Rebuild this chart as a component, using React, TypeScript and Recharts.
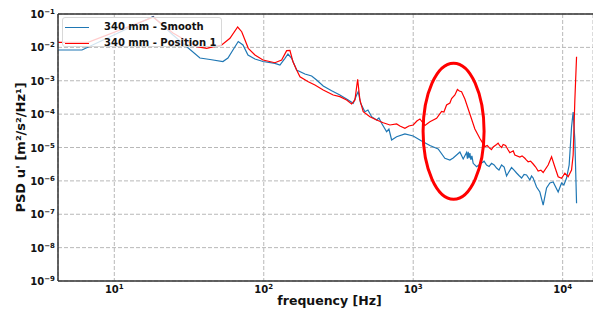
import React from "react";
import {
  LineChart,
  Line,
  XAxis,
  YAxis,
  CartesianGrid,
  ReferenceLine,
  ReferenceDot,
  Legend,
} from "recharts";

const smoothName = "340 mm - Smooth";
const positionName = "340 mm - Position 1";

// frequency [Hz] / PSD values
const smoothFreq = [
  4.2, 6.08, 18.2, 24.7, 37.4, 43.7, 53.3, 57.6, 62.2, 67.5, 72.6, 78.4, 87.3,
  98.8, 118.8, 128.3, 138.6, 145.2, 153.7, 166, 188.6, 209.2, 225.8, 250,
  284.6, 323.3, 367.4, 396.9, 418.2, 428.7, 444.8, 475.2, 497.7, 526.8, 569,
  589.6, 614.6, 664, 687.9, 717, 774.5, 879.9, 1000, 1138, 1293, 1469, 1629,
  1760, 1851, 1951, 2053, 2160, 2276, 2305, 2333, 2364, 2395, 2430, 2470, 2519,
  2655, 2867, 2980, 3097, 3220, 3345, 3480, 3613, 3750, 3902, 4060, 4214, 4380,
  4551, 4730, 4916, 5100, 5311, 5520, 5734, 6034, 6190, 6349, 6510, 6689, 7039,
  7406, 7803, 8211, 8640, 9331, 9831, 10186, 10619, 11053, 11468, 11755, 12067,
  12388,
];
const smoothPsd = [
  0.00834, 0.00834, 0.0842, 0.0235, 0.0048, 0.00433, 0.00377, 0.0048, 0.00834,
  0.015, 0.0118, 0.00591, 0.00448, 0.00377, 0.00333, 0.00296, 0.00471, 0.00633,
  0.00471, 0.0021, 0.00159, 0.00139, 0.00105, 0.000696, 0.000503, 0.000374,
  0.000265, 0.000211, 0.000374, 0.00047, 0.000211, 0.000118, 0.000133, 8.37e-5,
  6.67e-5, 7.65e-5, 5.31e-5, 2.97e-5, 3.58e-5, 1.68e-5, 2.11e-5, 2.54e-5,
  2.21e-5, 1.57e-5, 1.15e-5, 9.02e-6, 4.75e-6, 4.22e-6, 4.85e-6, 5.96e-6,
  7.33e-6, 4.52e-6, 7.08e-6, 4.6e-6, 7.4e-6, 4.8e-6, 6.84e-6, 4.3e-6, 5.6e-6,
  3.36e-6, 2.66e-6, 3.43e-6, 3.9e-6, 2.99e-6, 2.7e-6, 3.36e-6, 3.0e-6, 2.43e-6,
  2.1e-6, 2.99e-6, 2.6e-6, 1.4e-6, 1.9e-6, 2.52e-6, 2.1e-6, 1.72e-6, 1.45e-6,
  1.22e-6, 1.55e-6, 1.5e-6, 1.06e-6, 1.4e-6, 1.22e-6, 9e-7, 6.55e-7, 4.64e-7,
  1.89e-7, 6.12e-7, 8.64e-7, 9.25e-7, 4.64e-7, 8.64e-7, 7.52e-7, 1.22e-6,
  2.99e-6, 4.11e-5, 1.16e-4, 1.68e-5, 2.13e-7,
];

const positionFreq = [
  4.2, 6.67, 18.2, 24.7, 35.6, 41.5, 45.7, 52.3, 59.4, 66.9, 71.2, 78.8, 87.3,
  98.8, 118.8, 131.7, 142.3, 149.7, 156.8, 166, 174.7, 198.5, 220, 250, 291.6,
  323.3, 358.5, 387.3, 407.4, 424.8, 440, 463, 513.3, 569, 630, 698.5, 774.5,
  814.7, 879.9, 936, 1000, 1058, 1109, 1198, 1293, 1434, 1549, 1605, 1672, 1760,
  1807, 1901, 1976, 2037, 2107, 2217, 2395, 2586, 2795, 3017, 3130, 3258, 3340,
  3428, 3613, 3700, 3802, 3900, 3999, 4150, 4320, 4430, 4551, 4670, 4789, 5172,
  5350, 5587, 5730, 5877, 6100, 6349, 6600, 6857, 7150, 7406, 7998, 8430, 8868,
  9331, 9831, 10344, 10884, 11468, 11755, 12067, 12388,
];
const positionPsd = [
  0.0142, 0.0142, 0.0796, 0.027, 0.0105, 0.00938, 0.0103, 0.0118, 0.0187,
  0.0408, 0.0295, 0.00938, 0.00591, 0.00418, 0.00347, 0.00418, 0.00795, 0.00806,
  0.00372, 0.0021, 0.00132, 0.000936, 0.000746, 0.000528, 0.000374, 0.000333,
  0.000265, 0.000201, 0.000265, 0.0011, 0.000265, 0.000118, 8.37e-5, 6.67e-5,
  5.53e-5, 4.72e-5, 5.06e-5, 4.41e-5, 3.76e-5, 4.41e-5, 4.72e-5, 6.22e-5,
  7.14e-5, 4.56e-5, 5.93e-5, 7.5e-5, 1.2e-4, 1.16e-4, 1.88e-4, 2.15e-4, 2.94e-4,
  3.74e-4, 5.47e-4, 4.93e-4, 4.7e-4, 2.84e-4, 1.01e-4, 3.58e-5, 1.86e-5,
  1.06e-5, 1.15e-5, 9.46e-6, 8.6e-6, 1.04e-5, 1.23e-5, 1.35e-5, 1.11e-5, 1.0e-5,
  1.23e-5, 1.15e-5, 8.41e-6, 7.0e-6, 7.48e-6, 7.9e-6, 5.96e-6, 5.19e-6, 5.6e-6,
  4.75e-6, 4.2e-6, 3.75e-6, 3.9e-6, 3.2e-6, 2.6e-6, 1.98e-6, 2.1e-6, 1.78e-6,
  2.99e-6, 5.3e-6, 2.6e-6, 1.33e-6, 1.19e-6, 1.69e-6, 1.33e-6, 2.12e-6, 5.96e-6,
  2.65e-4, 0.00526,
];

const xTicks = [10, 100, 1000, 10000];
const yTicks = [1e-9, 1e-8, 1e-7, 1e-6, 1e-5, 1e-4, 1e-3, 1e-2, 1e-1];

// red ellipse drawn around the bump near 2 kHz
const highlightFreq = 1863;
const highlightPsd = 3.06e-5;

const smoothData = smoothFreq.map((f, i) => ({ f, psd: smoothPsd[i] }));
const positionData = positionFreq.map((f, i) => ({ f, psd: positionPsd[i] }));

const FONT = "'DejaVu Sans', sans-serif";

const expLabel = (v: number) => {
  const e = Math.round(Math.log10(v));
  return e < 0 ? "\u2212" + Math.abs(e) : String(e);
};

const XTick = (props: any) => {
  const { x, y, payload } = props;
  return (
    <text
      x={x}
      y={y + 12}
      textAnchor="middle"
      fontFamily={FONT}
      fontWeight="bold"
      fontSize={10}
      fill="#111"
    >
      <tspan>10</tspan>
      <tspan dy={-4} fontSize={7}>
        {expLabel(payload.value)}
      </tspan>
    </text>
  );
};

const YTick = (props: any) => {
  const { x, y, payload } = props;
  return (
    <text
      x={x}
      y={y + 4}
      textAnchor="end"
      fontFamily={FONT}
      fontWeight="bold"
      fontSize={10}
      fill="#111"
    >
      <tspan>10</tspan>
      <tspan dy={-4} fontSize={7}>
        {expLabel(payload.value)}
      </tspan>
    </text>
  );
};

const LegendBox = () => (
  <div
    style={{
      boxSizing: "border-box",
      width: 160,
      height: 30,
      border: "1px solid #d8d8d8",
      borderRadius: 3,
      background: "rgba(255,255,255,0.8)",
      fontFamily: FONT,
      fontWeight: "bold",
      fontSize: 10,
      color: "#111",
      position: "relative",
    }}
  >
    {[
      { name: smoothName, color: "#1f77b4", top: 9 },
      { name: positionName, color: "#ff0000", top: 25 },
    ].map((item) => (
      <div key={item.name}>
        <div
          style={{
            position: "absolute",
            left: 2,
            top: item.top,
            width: 24,
            height: 1,
            background: item.color,
          }}
        />
        <div
          style={{
            position: "absolute",
            left: 41,
            top: item.top - 7,
            whiteSpace: "nowrap",
            lineHeight: "13px",
          }}
        >
          {item.name}
        </div>
      </div>
    ))}
  </div>
);

export default function App() {
  return (
    <div style={{ position: "absolute", left: 0, top: 0, fontFamily: FONT }}>
      <LineChart
        width={593}
        height={314}
        margin={{ top: 14, right: 0, bottom: 0, left: 0 }}
      >
        <CartesianGrid stroke="#b8b8b8" strokeDasharray="4 2" />
        <XAxis
          type="number"
          dataKey="f"
          scale="log"
          domain={[4.2, 15960]}
          allowDataOverflow
          ticks={xTicks}
          height={33}
          tickSize={0}
          tickMargin={0}
          tickLine={false}
          axisLine={{ stroke: "#333", strokeWidth: 1.5 }}
          tick={(p: any) => <XTick {...p} />}
          label={{
            content: (p: any) => (
              <text
                x={p.viewBox.x + p.viewBox.width / 2 + 4}
                y={p.viewBox.y + 24}
                textAnchor="middle"
                fontFamily={FONT}
                fontWeight="bold"
                fontSize={12.5}
                fill="#111"
              >
                frequency [Hz]
              </text>
            ),
          }}
        />
        <YAxis
          type="number"
          dataKey="psd"
          scale="log"
          domain={[1e-9, 1e-1]}
          allowDataOverflow
          ticks={yTicks}
          width={58}
          tickSize={0}
          tickMargin={3}
          tickLine={false}
          axisLine={{ stroke: "#333", strokeWidth: 1.5 }}
          tick={(p: any) => <YTick {...p} />}
          label={{
            content: (p: any) => {
              const cx = 25;
              const cy = p.viewBox.y + p.viewBox.height / 2;
              return (
                <text
                  x={cx}
                  y={cy}
                  transform={`rotate(-90 ${cx} ${cy})`}
                  textAnchor="middle"
                  fontFamily={FONT}
                  fontWeight="bold"
                  fontSize={13}
                  fill="#111"
                >
                  PSD u' [m²/s²/Hz¹]
                </text>
              );
            },
          }}
        />
        <ReferenceLine y={1e-1} stroke="#333" strokeWidth={1.5} />
        <Line
          data={smoothData}
          dataKey="psd"
          name={smoothName}
          type="linear"
          stroke="#1f77b4"
          strokeWidth={1.2}
          dot={false}
          isAnimationActive={false}
        />
        <Line
          data={positionData}
          dataKey="psd"
          name={positionName}
          type="linear"
          stroke="#ff0000"
          strokeWidth={1.2}
          dot={false}
          isAnimationActive={false}
        />
        <ReferenceDot
          x={highlightFreq}
          y={highlightPsd}
          shape={(p: any) => (
            <ellipse
              cx={p.cx}
              cy={p.cy}
              rx={30.5}
              ry={68}
              fill="none"
              stroke="#ff0000"
              strokeWidth={3}
            />
          )}
        />
        <Legend
          layout="vertical"
          align="center"
          verticalAlign="middle"
          wrapperStyle={{ left: 62, top: 17, width: 160, height: 30 }}
          content={() => <LegendBox />}
        />
      </LineChart>
    </div>
  );
}
